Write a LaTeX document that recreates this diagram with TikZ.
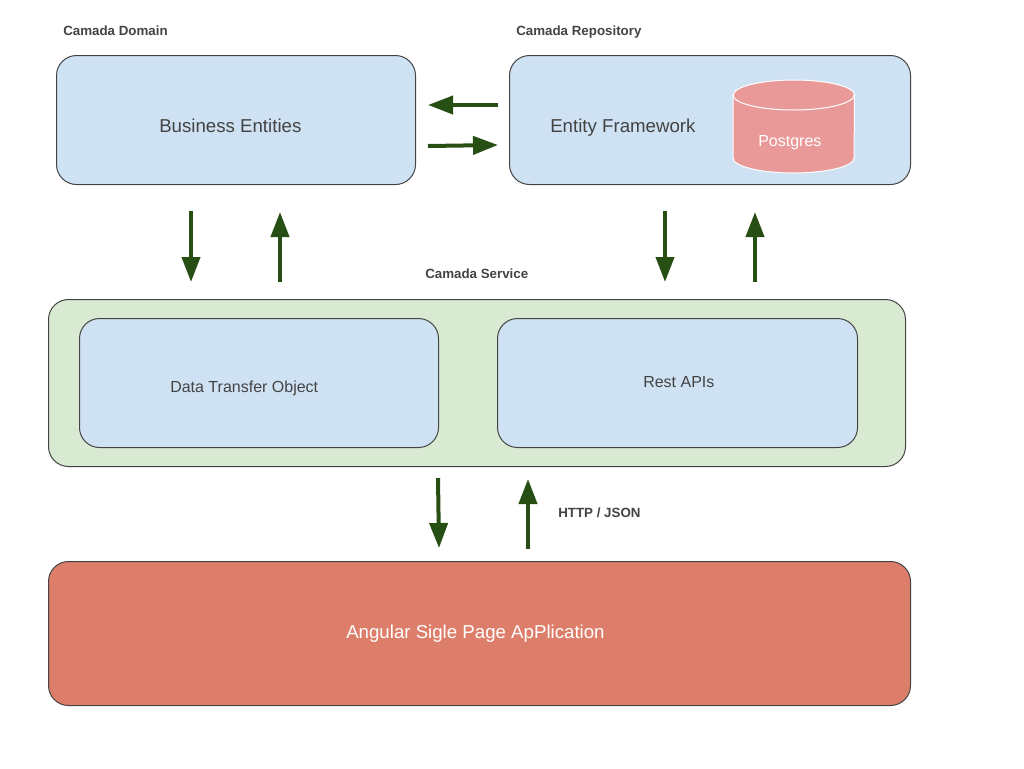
\documentclass[tikz,border=0pt]{standalone}
\usepackage{fontspec}
\setmainfont{Liberation Sans}
\usetikzlibrary{arrows.meta}
\definecolor{boxblue}{HTML}{CFE2F3}
\definecolor{boxgreen}{HTML}{D9EAD3}
\definecolor{boxred}{HTML}{DD7E6B}
\definecolor{dbred}{HTML}{EA9999}
\definecolor{arrowgreen}{HTML}{274E13}
\definecolor{linegray}{HTML}{434343}
\tikzset{
  panel/.style={draw=linegray,line width=0.75pt,rounded corners=15pt,anchor=north west,inner sep=0pt},
  bluepanel/.style={panel,fill=boxblue},
  heading/.style={text=linegray,font=\fontsize{10}{12}\selectfont\bfseries,anchor=base west,inner sep=0pt},
  bodytext/.style={text=linegray,anchor=base west,inner sep=0pt},
  flow/.style={draw=arrowgreen,line width=3pt,-{Triangle[length=18.75pt,width=13.5pt]}},
  barrel/.style={draw=white,line width=0.75pt,fill=dbred}
}
\begin{document}
\begin{tikzpicture}[x=0.75pt,y=-0.75pt]
 \useasboundingbox (0,0) rectangle (1024,768);
 % boxes
 \node[bluepanel,minimum width=359*0.75pt,minimum height=129*0.75pt] (domain) at (56,55) {};
 \node[bluepanel,minimum width=401*0.75pt,minimum height=129*0.75pt] (repository) at (509,55) {};
 \node[panel,fill=boxgreen,minimum width=857*0.75pt,minimum height=167*0.75pt] (service) at (48,299) {};
 \node[bluepanel,minimum width=359*0.75pt,minimum height=129*0.75pt] (dto) at (79,318) {};
 \node[bluepanel,minimum width=360*0.75pt,minimum height=129*0.75pt] (rest) at (497,318) {};
 \node[panel,fill=boxred,minimum width=862*0.75pt,minimum height=144*0.75pt] (angular) at (48,561) {};
 % postgres barrel
 \draw[barrel] (733,95) -- (733,158) arc[start angle=180,end angle=360,x radius=45.4pt,y radius=11.25pt] -- (854.5,95) arc[start angle=0,end angle=180,x radius=45.4pt,y radius=11.25pt] -- cycle;
 \draw[barrel,fill=none] (733,95) arc[start angle=180,end angle=360,x radius=45.4pt,y radius=11.25pt];
 % labels
 \node[heading] (domainlabel) at (63,35) {Camada Domain};
 \node[heading] (repolabel) at (516,35) {Camada Repository};
 \node[heading] (servicelabel) at (425,278) {Camada Service};
 \node[heading] (httplabel) at (558,517) {HTTP / JSON};
 \node[bodytext,font=\fontsize{14}{16}\selectfont] (domaintext) at (159,132) {Business Entities};
 \node[bodytext,font=\fontsize{14}{16}\selectfont] (repotext) at (550,132) {Entity Framework};
 \node[text=white,font=\fontsize{12}{14}\selectfont,anchor=base west,inner sep=0pt] (dbtext) at (758,146) {Postgres};
 \node[bodytext,font=\fontsize{12}{14}\selectfont] (dtotext) at (170,392) {Data Transfer Object};
 \node[bodytext,font=\fontsize{12}{14}\selectfont] (resttext) at (643,387) {Rest APIs};
 \node[text=white,anchor=base west,inner sep=0pt,font=\fontsize{14}{16}\selectfont] (angulartext) at (346,638) {Angular Sigle Page ApPlication};
 % arrow ends
 \coordinate (a1) at (498,105); \coordinate (a2) at (428,105);
 \coordinate (b1) at (428,146); \coordinate (b2) at (498,145);
 \coordinate (c1) at (191,211); \coordinate (c2) at (191,282);
 \coordinate (d1) at (280,282); \coordinate (d2) at (280,212);
 \coordinate (e1) at (665,211); \coordinate (e2) at (665,282);
 \coordinate (f1) at (755,282); \coordinate (f2) at (755,212);
 \coordinate (g1) at (438,478); \coordinate (g2) at (439,548);
 \coordinate (h1) at (528,549); \coordinate (h2) at (528,479);
 % arrows
 \foreach \from/\to in {a1/a2,b1/b2,c1/c2,d1/d2,e1/e2,f1/f2,g1/g2,h1/h2}
  \draw[flow] (\from) -- (\to);
\end{tikzpicture}
\end{document}
